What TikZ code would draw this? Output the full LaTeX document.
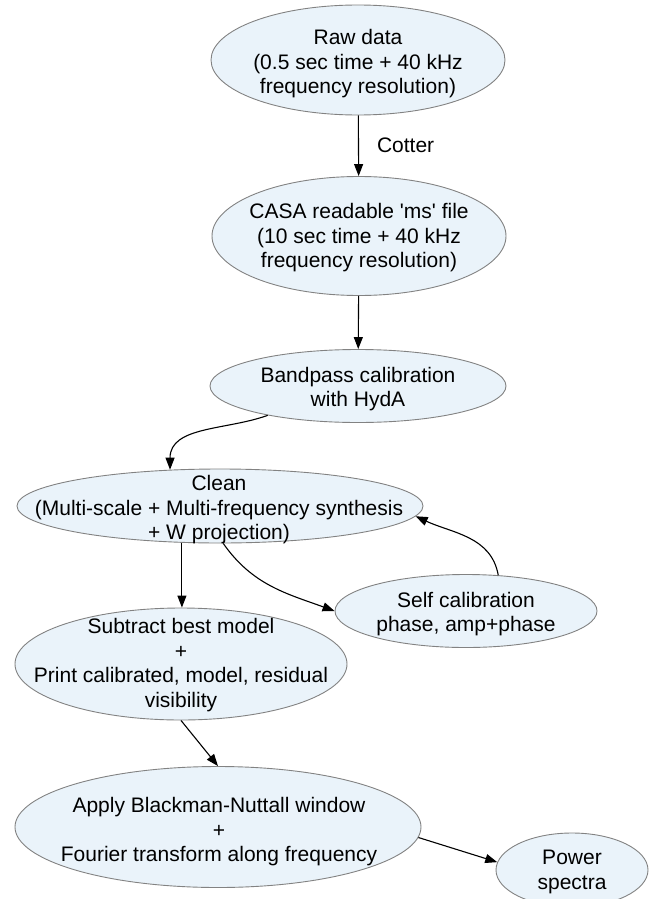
\documentclass[tikz,border=0pt]{standalone}
\usepackage{fontspec}
\setmainfont{Liberation Sans}[Ligatures = TeXOff]
\usepackage{tikz}
\usetikzlibrary{arrows.meta}
\usetikzlibrary{shapes.geometric}
\definecolor{procfill}{RGB}{234,243,250}
\definecolor{procline}{RGB}{130,130,130}
\tikzset{proc/.style = {ellipse, draw = procline, fill = procfill, inner sep = 0pt, line width = 0.9pt}}
\tikzset{txt/.style = {align = center, inner sep = 0pt, font = \fontsize{21}{24.5}\selectfont}}
\tikzset{arr/.style = {-{Triangle[length = 12pt, width = 9pt]}, line width = 1.1pt}}

\begin{document}
\begin{tikzpicture}[x = 1pt, y = -1pt]
          \useasboundingbox (0, 0) rectangle (652, 899);

          % the processing steps
          \node [proc, minimum width = 294pt, minimum height = 110pt] (raw) at (358, 60) {};
          \node [proc, minimum width = 294pt, minimum height = 119pt] (casa) at (359, 236) {};
          \node [proc, minimum width = 296pt, minimum height = 73pt] (band) at (358, 386) {};
          \node [proc, minimum width = 406pt, minimum height = 74pt] (clean) at (220, 506) {};
          \node [proc, minimum width = 262pt, minimum height = 73pt] (self) at (466, 611) {};
          \node [proc, minimum width = 332pt, minimum height = 112pt] (sub) at (181, 664) {};
          \node [proc, minimum width = 406pt, minimum height = 121pt] (apply) at (218, 827) {};
          \node [proc, minimum width = 152pt, minimum height = 74pt] (power) at (572, 870) {};

          \node [txt] (rawtext) at (358, 64) {Raw data\\(0.5 sec time + 40 kHz\\frequency resolution)};
          \node [txt] (casatext) at (359, 238) {CASA readable 'ms' file\\(10 sec time + 40 kHz\\frequency resolution)};
          \node [txt] (bandtext) at (358, 389) {Bandpass calibration\\with HydA};
          \node [txt] (cleantext) at (219, 510) {Clean\\(Multi-scale + Multi-frequency synthesis\\+ W projection)};
          \node [txt] (selftext) at (466, 614) {Self calibration\\phase, amp+phase};
          \node [txt] (subtext) at (181, 665) {Subtract best model\\+\\Print calibrated, model, residual\\visibility};
          \node [txt] (applytext) at (219, 832) {Apply Blackman-Nuttall window\\+\\Fourier transform along frequency};
          \node [txt] (powertext) at (572, 872) {Power\\spectra};

          % connectors
          \draw [arr] (raw) -- (casa) node [txt, midway, right = 18pt] (cotter) {Cotter};
          \draw [arr] (casa) -- (band);
          \draw [arr] (band.198) to [out = 200, in = 90] (clean.144);
          \draw [arr] (clean.224.5) -- (clean.224.5 |- sub.north);
          \draw [arr] (clean.275) to [out = -55, in = 160] (self.west);
          \draw [arr] (self.48) to [out = 100, in = -25] (clean.-3);
          \draw [arr] (sub.south) -- (apply.north);
          \draw [arr] (apply.-3) -- (power.174);
        \end{tikzpicture}
\end{document}
